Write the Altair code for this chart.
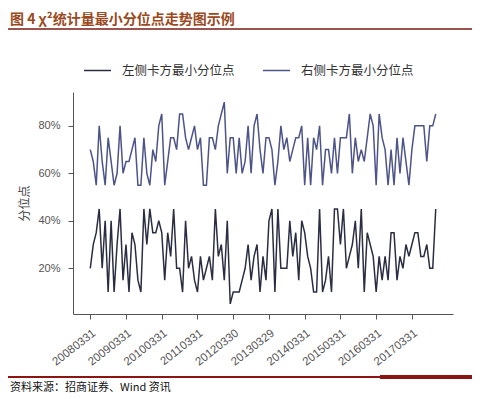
import json
import altair as alt
import pandas as pd

# ---- data (monthly, 2008-03 .. 2017-11), percent ----
LEFT_SERIES = [20, 30, 35, 45, 20, 40, 10, 40, 10, 30, 45, 15, 30, 10, 35, 30, 15, 10, 45, 30,
               45, 35, 35, 40, 35, 15, 35, 25, 45, 20, 20, 10, 40, 20, 25, 15, 10, 25, 15, 20,
               25, 15, 45, 25, 30, 15, 40, 5, 10, 10, 10, 15, 20, 30, 15, 25, 30, 10, 25, 15,
               40, 45, 10, 45, 20, 20, 20, 40, 25, 35, 15, 40, 35, 25, 20, 10, 10, 45, 10, 15,
               25, 10, 45, 45, 30, 45, 20, 25, 30, 40, 20, 45, 10, 35, 30, 25, 10, 25, 15, 25,
               15, 35, 35, 15, 25, 20, 30, 25, 30, 35, 35, 25, 25, 30, 20, 20, 45]
RIGHT_SERIES = [70, 65, 55, 80, 65, 55, 75, 65, 55, 60, 80, 60, 65, 65, 70, 75, 55, 55, 75, 60,
                55, 70, 65, 80, 85, 55, 65, 75, 75, 70, 85, 85, 75, 70, 75, 80, 70, 75, 55, 55,
                75, 75, 70, 80, 85, 90, 60, 75, 75, 60, 75, 60, 65, 80, 60, 80, 85, 70, 60, 75,
                75, 70, 55, 65, 80, 70, 75, 65, 70, 75, 75, 80, 55, 75, 55, 75, 70, 80, 55, 70,
                70, 60, 75, 60, 75, 75, 75, 85, 60, 75, 65, 70, 65, 75, 85, 80, 55, 85, 75, 70,
                55, 70, 55, 75, 60, 75, 65, 55, 70, 80, 80, 80, 80, 65, 80, 80, 85]
SERIES_NAMES = ["左侧卡方最小分位点", "右侧卡方最小分位点"]
SERIES_COLORS = ["#2b2e42", "#4d5489"]
TICK_LABELS = ["20080331", "20090331", "20100331", "20110331", "20120330",
               "20130329", "20140331", "20150331", "20160331", "20170331"]
TICK_POS = [12 * k for k in range(len(TICK_LABELS))]

TITLE = "图 4  χ²统计量最小分位点走势图示例"
SOURCE = "资料来源：招商证券、Wind 资讯"

rows = []
for name, vals in zip(SERIES_NAMES, [LEFT_SERIES, RIGHT_SERIES]):
    for i, v in enumerate(vals):
        rows.append({"i": i, "value": v / 100.0, "series": name})
df = pd.DataFrame(rows)

W, H = 380, 222
PAD_L, PAD_T = 65, 84

label_expr = json.dumps(TICK_LABELS) + "[round(datum.value/12)]"

lines = alt.Chart(df).mark_line(strokeWidth=1.5).encode(
    x=alt.X("i:Q",
            scale=alt.Scale(domain=[-5.8, 121.8], nice=False, zero=False),
            axis=alt.Axis(values=TICK_POS, labelExpr=label_expr, labelAngle=322,
                          labelAlign="right", labelBaseline="top", labelPadding=8,
                          labelOverlap=False, labelFontSize=11.5, title=None)),
    y=alt.Y("value:Q",
            scale=alt.Scale(domain=[0.0075, 0.9425], nice=False, zero=False),
            axis=alt.Axis(values=[0.2, 0.4, 0.6, 0.8], format=".0%", title="分位点",
                          labelPadding=8, titlePadding=6, titleFontSize=12, titleColor="#444",
                          titleFontWeight="normal", titleFont="Noto Sans CJK SC")),
    color=alt.Color("series:N",
                    scale=alt.Scale(domain=SERIES_NAMES, range=SERIES_COLORS),
                    legend=alt.Legend(orient="none", legendX=10, legendY=-36,
                                      direction="horizontal", title=None,
                                      symbolType="stroke", symbolSize=729,
                                      symbolStrokeWidth=1.5, labelFontSize=12.5,
                                      labelFont="Noto Sans CJK SC", labelColor="#333",
                                      labelOffset=10, columnPadding=25, padding=0)),
)

title_text = alt.Chart(pd.DataFrame({"t": [TITLE]})).mark_text(
    align="left", baseline="middle", fontSize=14, fontWeight="bold",
    font="Noto Sans CJK SC", color="#9a4a1e"
).encode(text="t:N", x=alt.value(-63), y=alt.value(-72))

title_rule = alt.Chart(pd.DataFrame({"a": [0]})).mark_rule(
    color="#7a1a12", strokeWidth=1.5
).encode(x=alt.value(-65), x2=alt.value(399), y=alt.value(-63))

foot_rule = alt.Chart(pd.DataFrame({"a": [0]})).mark_rule(
    color="#8b1510", strokeWidth=2
).encode(x=alt.value(-65), x2=alt.value(399), y=alt.value(285))

foot_band = alt.Chart(pd.DataFrame({"a": [0]})).mark_rule(
    color="#8b1510", strokeWidth=4
).encode(x=alt.value(307), x2=alt.value(399), y=alt.value(285))

foot_text = alt.Chart(pd.DataFrame({"t": [SOURCE]})).mark_text(
    align="left", baseline="middle", fontSize=11, font="Noto Sans CJK SC", color="#111"
).encode(text="t:N", x=alt.value(-63), y=alt.value(296))

chart = alt.layer(lines, title_text, title_rule, foot_rule, foot_band, foot_text).properties(
    width=W, height=H,
    autosize=alt.AutoSizeParams(type="none"),
    padding={"left": PAD_L, "top": PAD_T, "right": 30, "bottom": 80},
).configure_view(stroke=None).configure_axis(
    grid=False, domainColor="#555", tickColor="#555", tickSize=5,
    labelColor="#555", labelFontSize=11, labelFont="Liberation Sans"
)

chart.save("out.html", embed_options={"renderer": "svg", "actions": False})
